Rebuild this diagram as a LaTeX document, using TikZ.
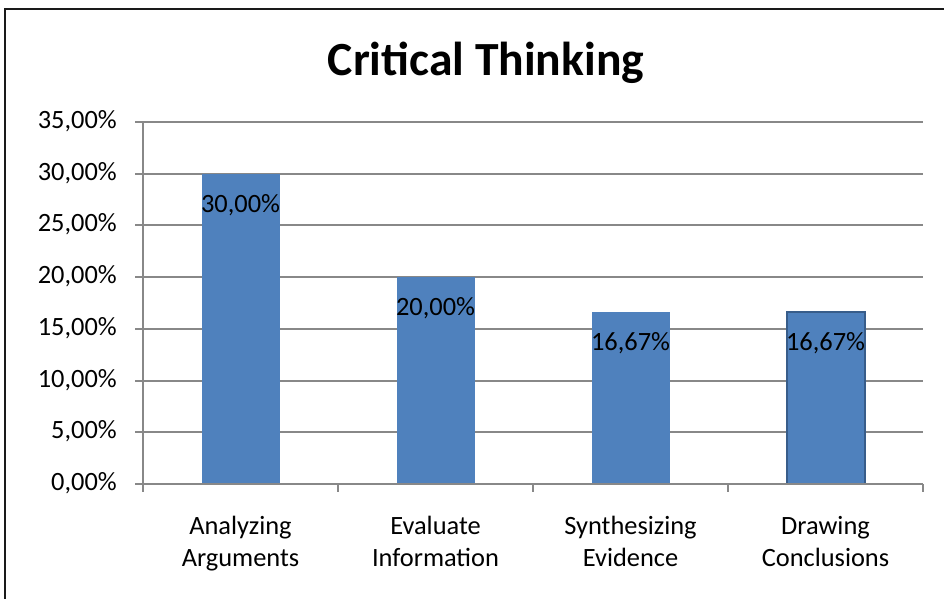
\documentclass[tikz,border=0pt]{standalone}
\usepackage{fontspec}
\setmainfont{Carlito}
\definecolor{barblue}{HTML}{4F81BD}
\definecolor{bardark}{HTML}{385D8A}
\definecolor{gridgray}{HTML}{888888}
\definecolor{framec}{HTML}{1A1A1A}
\tikzset{
  grid line/.style={draw=gridgray, line width=2pt},
  bar/.style={fill=barblue, draw=none},
  axlabel/.style={font=\fontsize{26.4}{32.2}\selectfont, inner sep=0pt, text=black, anchor=base east},
  catlabel/.style={font=\fontsize{26.4}{32.2}\selectfont, inner sep=0pt, text=black, anchor=base},
  vallabel/.style={font=\fontsize{26.4}{32.2}\selectfont, inner sep=0pt, text=black, anchor=base},
}
\begin{document}
\begin{tikzpicture}[x=1pt, y=-1pt]
\useasboundingbox (0,0) rectangle (944,599);
\fill[white] (0,0) rectangle (944,599);
% frame
\draw[framec, line width=2.5pt] (5,599) -- (5,9) -- (944,9);
% title
\node[font=\fontsize{47.6}{57}\selectfont\bfseries, inner sep=0pt, anchor=base] (title) at (486,76) {Critical Thinking};
% gridlines
\foreach \i [evaluate=\i as \yy using {484-\i*51.714}] in {0,...,7} {
  \draw[grid line] (135,\yy) -- (923,\yy);
}
% y labels
\node[axlabel] (y0) at (117,490.5) {0,00\%};
\node[axlabel] (y1) at (117,438.8) {5,00\%};
\node[axlabel] (y2) at (117,387.1) {10,00\%};
\node[axlabel] (y3) at (117,335.4) {15,00\%};
\node[axlabel] (y4) at (117,283.6) {20,00\%};
\node[axlabel] (y5) at (117,231.9) {25,00\%};
\node[axlabel] (y6) at (117,180.2) {30,00\%};
\node[axlabel] (y7) at (117,128.5) {35,00\%};
% y axis
\draw[grid line] (143,122) -- (143,484);
% x ticks
\foreach \x in {143,338,533,728,923} {
  \draw[grid line] (\x,484) -- (\x,492);
}
% bars
\fill[bar] (201.5,484) rectangle (279.5,173.7);
\fill[bar] (396.5,484) rectangle (474.5,277.1);
\fill[bar] (591.5,484) rectangle (669.5,311.6);
\draw[bar, draw=bardark, line width=2pt] (786.5,484) rectangle (864.5,311.6);
% x axis line over bars
\draw[grid line] (135,484) -- (923,484);
% value labels
\node[vallabel] (v1) at (240.5,212.2) {30,00\%};
\node[vallabel] (v2) at (435.5,315.6) {20,00\%};
\node[vallabel] (v3) at (630.5,350.1) {16,67\%};
\node[vallabel] (v4) at (825.5,350.1) {16,67\%};
% category labels
\node[catlabel] (c1a) at (240.5,534) {Analyzing};
\node[catlabel] (c1b) at (240.5,566) {Arguments};
\node[catlabel] (c2a) at (435.5,534) {Evaluate};
\node[catlabel] (c2b) at (435.5,566) {Information};
\node[catlabel] (c3a) at (630.5,534) {Synthesizing};
\node[catlabel] (c3b) at (630.5,566) {Evidence};
\node[catlabel] (c4a) at (825.5,534) {Drawing};
\node[catlabel] (c4b) at (825.5,566) {Conclusions};
\end{tikzpicture}
\end{document}
